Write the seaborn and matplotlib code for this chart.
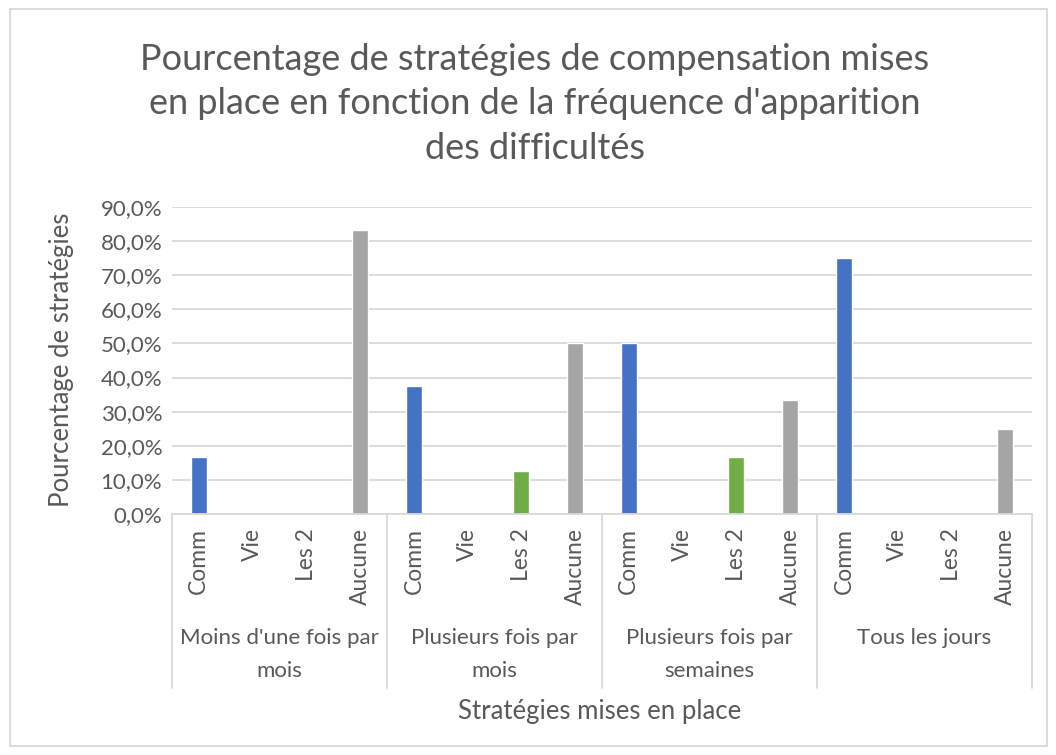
import matplotlib
matplotlib.use("Agg")
import matplotlib.pyplot as plt
import matplotlib.transforms as mtransforms
from matplotlib.patches import Rectangle
import seaborn as sns
import pandas as pd

groups = ["Moins d'une fois par\nmois", "Plusieurs fois par\nmois",
          "Plusieurs fois par\nsemaines", "Tous les jours"]
subcats = ["Comm", "Vie", "Les 2", "Aucune"]
comm = [16.7, 37.5, 50.0, 75.0]
vie = [0.0, 0.0, 0.0, 0.0]
les2 = [0.0, 12.5, 16.7, 0.0]
aucune = [83.3, 50.0, 33.3, 25.0]
yticks = [0, 10, 20, 30, 40, 50, 60, 70, 80, 90]
title = "Pourcentage de stratégies de compensation mises\nen place en fonction de la fréquence d'apparition\ndes difficultés"
xlabel = "Stratégies mises en place"
ylabel = "Pourcentage de stratégies"

colors = {"Comm": "#4472C4", "Vie": "#ED7D31", "Les 2": "#70AD47", "Aucune": "#A5A5A5"}

series = {"Comm": comm, "Vie": vie, "Les 2": les2, "Aucune": aucune}
rows = []
for gi, g in enumerate(groups):
    for s in subcats:
        rows.append({"key": f"{gi}|{s}", "sub": s, "val": series[s][gi] / 100.0})
df = pd.DataFrame(rows)

sns.set_theme(style="white")
plt.rcParams["font.family"] = ["Lato", "DejaVu Sans"]
txt = "#595959"
grid = "#D9D9D9"

fig = plt.figure(figsize=(10.56, 7.55), dpi=100)
ax = fig.add_axes([172/1056, 1-514/755, (1032-172)/1056, (514-207)/755])

sns.barplot(data=df, x="key", y="val", hue="sub", palette=colors, dodge=False,
            width=0.3, ax=ax, legend=False, saturation=1)

ax.set_ylim(0, 0.9)
ax.set_xlim(-0.5, len(df) - 0.5)
ax.set_yticks([v / 100 for v in yticks])
ax.set_yticklabels([f"{v:.1f}".replace(".", ",") + "%" for v in yticks],
                   fontsize=16, color=txt)
ax.yaxis.grid(True, color=grid, linewidth=1.3)
ax.set_axisbelow(True)
for sp in ["top", "right", "left"]:
    ax.spines[sp].set_visible(False)
ax.spines["bottom"].set_color(grid)
ax.spines["bottom"].set_linewidth(1.3)
ax.tick_params(axis="y", length=0, pad=7)
ax.tick_params(axis="x", length=0, pad=10)
ax.set_xticks(range(len(df)))
ax.set_xticklabels(df["sub"].tolist(), rotation=90, fontsize=16.5, color=txt)

trans = mtransforms.blended_transform_factory(ax.transData, ax.transAxes)
ybot = -(688 - 514) / 307
n = len(subcats)
for b in range(len(groups) + 1):
    xb = b * n - 0.5
    ax.plot([xb, xb], [0, ybot], color=grid, linewidth=1.3, transform=trans, clip_on=False)
for gi, g in enumerate(groups):
    xc = gi * n + (n - 1) / 2
    ax.text(xc, -(628 - 514) / 307, g, transform=trans, ha="center", va="top",
            fontsize=16, color=txt, linespacing=1.8)

ax.set_xlabel("")
ax.set_ylabel("")
fig.text(600/1056, 1 - 712/755, xlabel, ha="center", va="center", fontsize=18.5, color=txt)
fig.text(62/1056, 1 - 360/755, ylabel, ha="center", va="center", rotation=90,
         fontsize=18.5, color=txt)
fig.text(535/1056, 1 - 104/755, title, ha="center", va="center", fontsize=26,
         color=txt, linespacing=1.42)

fig.patches.append(Rectangle((10/1056, 1 - 746/755), (1047-10)/1056, (746-9)/755,
                             transform=fig.transFigure, fill=False,
                             edgecolor=grid, linewidth=1.3))

fig.savefig("out.png", dpi=100)
